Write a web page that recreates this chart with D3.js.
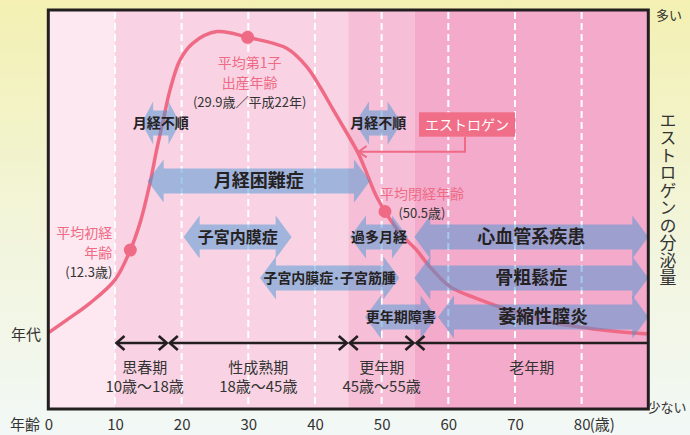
<!DOCTYPE html>
<html>
<head>
<meta charset="utf-8">
<script src="https://cdn.jsdelivr.net/npm/d3@7"></script>
<style>
  html, body { margin: 0; padding: 0; }
  svg { display: block; font-family: "Noto Sans CJK JP", "Noto Sans", sans-serif; }
</style>
</head>
<body>
<svg id="chart" width="690" height="435"></svg>
<script>
// エストロゲン分泌量の曲線（年齢, 相対値 0〜100）
const ages = [0, 3, 6.25, 10, 12.2, 13.75, 15.25, 16.25, 17.25, 18.25, 19.75, 21.7, 25.3, 30, 35.75, 38.75, 40.75, 42.75, 46.5, 47.5, 49.25, 51.15, 53.25, 55.25, 57, 60.25, 64.5, 70.5, 76, 84.5, 90];
const estrogen = [2.3, 6.8, 11.9, 19.4, 28.5, 37.7, 50.6, 61.3, 71.0, 80.6, 90.3, 95.8, 99.5, 97.6, 94.1, 88.2, 81.7, 74.2, 60.2, 55.2, 46.2, 39.3, 33.3, 29.0, 24.2, 17.2, 13.2, 8.7, 5.5, 2.9, 1.9];

// 目盛り
const tickAges = [0, 10, 20, 30, 40, 50, 60, 70, 80];
const gridAges = [10, 20, 30, 40, 50, 60, 70, 80];

// 背景の帯
const bandStart = [0, 10, 45, 55];
const bandEnd = [10, 45, 55, 90];

// 年代
const stageNames = ["思春期", "性成熟期", "更年期", "老年期"];
const stageRanges = ["10歳〜18歳", "18歳〜45歳", "45歳〜55歳", ""];
const stageStart = [10, 18, 45, 55];
const stageEnd = [18, 45, 55, 90];

// 主な年齢
const milestoneAges = [12.3, 29.9, 50.5];
const milestoneNames = [["平均初経", "年齢"], ["平均第1子", "出産年齢"], ["平均閉経年齢"]];
const milestoneNotes = ["(12.3歳)", "(29.9歳／平成22年)", "(50.5歳)"];

// 疾患（開始年齢・終了年齢・段）
const diseases = ["月経不順", "月経困難症", "月経不順", "子宮内膜症", "過多月経", "心血管系疾患", "子宮内膜症･子宮筋腫", "骨粗鬆症", "更年期障害", "萎縮性膣炎"];
const diseaseFrom = [14.0, 14.9, 46.0, 20.3, 45.25, 54.9, 31.75, 54.9, 47.5, 58.45];
const diseaseTo = [19.75, 48.25, 53.0, 36.5, 53.95, 90, 52.65, 90, 58.25, 90];
const diseaseRow = [0, 1, 0, 2, 2, 2, 3, 3, 4, 4];

const svg = d3.select("#chart");
const W = 690, H = 435;
const plotTop = 10, plotBottom = 409, stageY = 343;

const x = d3.scaleLinear().domain([0, 90]).range([48.3, 648.3]);
const y = d3.scaleLinear().domain([0, 100]).range([340, 30]);
const rowY = d3.scaleOrdinal().domain([0, 1, 2, 3, 4]).range([123, 181, 237, 278, 317]);

const pink = "#ef6a85";
const bandColors = ["#fde7f0", "#f9d3e4", "#f6bfd7", "#f3aacb"];

// 外側の背景
const defs = svg.append("defs");
const grad = defs.append("linearGradient").attr("id", "bg").attr("x1", 0).attr("y1", 0).attr("x2", 0).attr("y2", 1);
grad.append("stop").attr("offset", "0%").attr("stop-color", "#f3f0b2");
grad.append("stop").attr("offset", "55%").attr("stop-color", "#f2f5dc");
grad.append("stop").attr("offset", "100%").attr("stop-color", "#f2f8f6");
svg.append("rect").attr("width", W).attr("height", H).attr("fill", "url(#bg)");

// 帯
svg.append("g").selectAll("rect")
  .data(bandStart)
  .enter()
  .append("rect")
  .attr("x", (d) => x(d))
  .attr("y", plotTop)
  .attr("width", (d, i) => x(bandEnd[i]) - x(d))
  .attr("height", plotBottom - plotTop)
  .attr("fill", (d, i) => bandColors[i]);

// 点線
svg.append("g").selectAll("line")
  .data(gridAges)
  .enter()
  .append("line")
  .attr("x1", (d) => x(d))
  .attr("x2", (d) => x(d))
  .attr("y1", plotTop + 2)
  .attr("y2", plotBottom)
  .attr("stroke", "#fff")
  .attr("stroke-width", 2)
  .attr("stroke-dasharray", "7,4");

// エストロゲン曲線
const line = d3.line()
  .x((d) => x(d[0]))
  .y((d) => y(d[1]))
  .curve(d3.curveCatmullRom.alpha(0.5));
const curvePath = svg.append("path")
  .datum(ages.map((a, i) => [a, estrogen[i]]))
  .attr("d", line)
  .attr("fill", "none")
  .attr("stroke", pink)
  .attr("stroke-width", 3.5);

// 曲線上の点を求める
const pathNode = curvePath.node();
const totalLen = pathNode.getTotalLength();
const pointAtX = (px) => {
  let lo = 0, hi = totalLen;
  for (let k = 0; k < 40; k++) {
    const mid = (lo + hi) / 2;
    if (pathNode.getPointAtLength(mid).x < px) lo = mid; else hi = mid;
  }
  return pathNode.getPointAtLength((lo + hi) / 2);
};
const dots = milestoneAges.map((a) => pointAtX(x(a)));

svg.append("g").selectAll("circle")
  .data(dots)
  .enter()
  .append("circle")
  .attr("cx", (d) => d.x)
  .attr("cy", (d) => d.y)
  .attr("r", 6.5)
  .attr("fill", pink);

// 疾患の矢印
const arrowPath = (x0, x1, yc) => {
  const hl = Math.min(16, (x1 - x0) * 0.3);
  const bh = 12.5, hh = 21.5;
  return d3.line()([
    [x0, yc], [x0 + hl, yc - hh], [x0 + hl, yc - bh], [x1 - hl, yc - bh], [x1 - hl, yc - hh],
    [x1, yc], [x1 - hl, yc + hh], [x1 - hl, yc + bh], [x0 + hl, yc + bh], [x0 + hl, yc + hh]
  ]) + "Z";
};

const dg = svg.append("g").selectAll("g")
  .data(diseases)
  .enter()
  .append("g");

dg.append("path")
  .attr("d", (d, i) => arrowPath(x(diseaseFrom[i]), x(diseaseTo[i]), rowY(diseaseRow[i])))
  .attr("fill", "rgb(72,150,212)")
  .attr("fill-opacity", 0.5);

dg.append("text")
  .attr("x", (d, i) => (x(diseaseFrom[i]) + x(diseaseTo[i])) / 2)
  .attr("y", (d, i) => rowY(diseaseRow[i]))
  .attr("dy", "0.36em")
  .attr("text-anchor", "middle")
  .attr("font-weight", 700)
  .attr("fill", "#262223")
  .attr("font-size", (d, i) => {
    const w = x(diseaseTo[i]) - x(diseaseFrom[i]);
    if (w > 200) return 18;
    if (w > 100) return Math.min(16, w / d.length);
    return 14;
  })
  .text((d) => d);

// 主な年齢のラベル
const labelAnchor = ["end", "middle", "middle"];
const labelDx = [-18, 2, 37];
const labelDy = [-17, 26, -18];
const lineGap = 19.5;

milestoneNames.forEach((names, i) => {
  const lx = dots[i].x + labelDx[i];
  const ly = dots[i].y + labelDy[i];
  names.forEach((t, j) => {
    svg.append("text")
      .attr("x", lx)
      .attr("y", ly + j * lineGap)
      .attr("dy", "0.36em")
      .attr("text-anchor", labelAnchor[i])
      .attr("font-size", 14)
      .attr("fill", pink)
      .text(t);
  });
  svg.append("text")
    .attr("x", lx)
    .attr("y", ly + names.length * lineGap + 0.5)
    .attr("dy", "0.36em")
    .attr("text-anchor", labelAnchor[i])
    .attr("font-size", 13)
    .attr("fill", "#333")
    .text(milestoneNotes[i]);
});

// エストロゲンの引き出し線
const lead = svg.append("g");
lead.append("path")
  .attr("d", `M465,137 V151.7 H${x(46.4)}`)
  .attr("fill", "none")
  .attr("stroke", pink)
  .attr("stroke-width", 2);
lead.append("path")
  .attr("d", `M${x(46.4) + 9},146 L${x(46.4) + 1},151.7 L${x(46.4) + 9},157.4`)
  .attr("fill", "none")
  .attr("stroke", pink)
  .attr("stroke-width", 2);
lead.append("rect")
  .attr("x", 419).attr("y", 112.3)
  .attr("width", 96).attr("height", 24.4)
  .attr("fill", "#f06e87");
lead.append("text")
  .attr("x", 467).attr("y", 124.5)
  .attr("dy", "0.36em")
  .attr("text-anchor", "middle")
  .attr("font-size", 14)
  .attr("fill", "#fff")
  .text("エストロゲン");

// 枠
svg.append("rect")
  .attr("x", x(0)).attr("y", plotTop)
  .attr("width", x(90) - x(0)).attr("height", plotBottom - plotTop)
  .attr("fill", "none")
  .attr("stroke", "#231f20")
  .attr("stroke-width", 3);

// 年代の矢印
const sg = svg.append("g").attr("stroke", "#231f20").attr("stroke-width", 2.6).attr("fill", "none");
stageStart.forEach((s, i) => {
  const x0 = x(s) + 1.5, x1 = i === stageStart.length - 1 ? x(stageEnd[i]) : x(stageEnd[i]) - 1.5;
  sg.append("line").attr("x1", x0).attr("x2", x1).attr("y1", stageY).attr("y2", stageY);
  sg.append("path").attr("d", `M${x0 + 8},${stageY - 7} L${x0},${stageY} L${x0 + 8},${stageY + 7}`);
  if (i < stageStart.length - 1) {
    sg.append("path").attr("d", `M${x1 - 8},${stageY - 7} L${x1},${stageY} L${x1 - 8},${stageY + 7}`);
  }
});

svg.append("g").selectAll("text")
  .data(stageNames)
  .enter()
  .append("text")
  .attr("x", (d, i) => (x(stageStart[i]) + x(stageEnd[i])) / 2 + (i === 0 ? 3 : 0))
  .attr("y", 368)
  .attr("dy", "0.36em")
  .attr("text-anchor", "middle")
  .attr("font-size", 15)
  .attr("fill", "#333")
  .text((d) => d);

svg.append("g").selectAll("text")
  .data(stageRanges)
  .enter()
  .append("text")
  .attr("x", (d, i) => (x(stageStart[i]) + x(stageEnd[i])) / 2 + (i === 0 ? 3 : 0))
  .attr("y", 387)
  .attr("dy", "0.36em")
  .attr("text-anchor", "middle")
  .attr("font-size", 15)
  .attr("fill", "#333")
  .text((d) => d);

// 横軸
const axis = svg.append("g")
  .attr("transform", `translate(0,${425})`)
  .call(d3.axisBottom(x).tickValues(tickAges).tickSize(0).tickPadding(0));
axis.select(".domain").remove();
axis.selectAll("text")
  .attr("y", 0)
  .attr("dy", "0.36em")
  .attr("font-size", 15)
  .attr("font-family", "Noto Sans CJK JP, sans-serif")
  .attr("fill", "#333");

svg.append("text")
  .attr("x", x(80) + 8).attr("y", 425).attr("dy", "0.36em")
  .attr("font-size", 15).attr("fill", "#333")
  .text("(歳)");
svg.append("text")
  .attr("x", 25).attr("y", 425).attr("dy", "0.36em")
  .attr("text-anchor", "middle")
  .attr("font-size", 15).attr("fill", "#333")
  .text("年齢");
svg.append("text")
  .attr("x", 26).attr("y", 335).attr("dy", "0.36em")
  .attr("text-anchor", "middle")
  .attr("font-size", 15).attr("fill", "#333")
  .text("年代");

// 縦軸の説明
svg.append("text")
  .attr("x", 669).attr("y", 15).attr("dy", "0.36em")
  .attr("text-anchor", "middle")
  .attr("font-size", 13).attr("fill", "#333")
  .text("多い");
svg.append("text")
  .attr("x", 667).attr("y", 407).attr("dy", "0.36em")
  .attr("text-anchor", "middle")
  .attr("font-size", 13).attr("fill", "#333")
  .text("少ない");

svg.append("text")
  .attr("x", 668)
  .attr("y", 112)
  .attr("font-size", 17)
  .attr("letter-spacing", 0.5)
  .attr("fill", "#333")
  .style("writing-mode", "vertical-rl")
  .text("エストロゲンの分泌量");
</script>
</body>
</html>
